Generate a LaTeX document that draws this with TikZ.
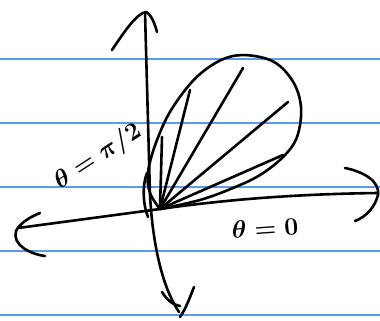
\documentclass[tikz,border=0pt]{standalone}
\usetikzlibrary{calc}
\definecolor{ruleblue}{RGB}{90,155,235}
\tikzset{
  ink/.style={line width=2.6pt, black, line cap=round, line join=round},
  ruling/.style={line width=1.3pt, ruleblue},
  lbl/.style={font=\fontsize{27}{30}\selectfont\boldmath, inner sep=0pt}
}
\begin{document}
\begin{tikzpicture}[x=1pt,y=-1pt]
\useasboundingbox (0,0) rectangle (380,321);
\fill[white] (0,0) rectangle (380,321);
% ruled paper lines
\foreach \yy in {59,123,187,251,315} \draw[ruling] (0,\yy) -- (380,\yy);
% origin
\coordinate (O) at (160,209);
% vertical axis
\draw[ink] (145,12) -- (150,195) .. controls (153,250) and (164,290) .. (179,312);
\draw[ink] (112,50) .. controls (124,32) and (137,13) .. (146,12) .. controls (151,14) and (155,24) .. (157,32);
\draw[ink] (162,292) .. controls (167,300) and (173,305) .. (180,306);
\draw[ink] (194,287) .. controls (189,300) and (185,310) .. (180,317);
% horizontal axis
\draw[ink] (18,228) -- (O) .. controls (230,199) and (300,194) .. (378,193);
\draw[ink] (40,213) .. controls (30,217) and (20,223) .. (16,231) .. controls (12,245) and (30,254) .. (45,256);
\draw[ink] (345,168) .. controls (365,172) and (380,182) .. (378,195) .. controls (375,207) and (366,217) .. (355,221);
% petal
\draw[ink] plot[smooth, tension=0.6] coordinates {(O) (150,193) (148,172) (157,140) (173,107) (200,74) (233,56) (270,60) (292,80) (301,107) (297,137) (283,157) (260,175) (233,188) (200,200) (O)};
\draw[ink] (147,173) .. controls (142,185) and (143,205) .. (148,217);
% rays
\coordinate (r1) at (162,137);
\coordinate (r2) at (190,90);
\coordinate (r3) at (243,68);
\coordinate (r4) at (288,102);
\coordinate (r5) at (283,155);
\foreach \r in {r1,r2,r3,r4,r5} \draw[ink] (O) -- (\r);
% labels
\node[lbl, rotate=33] (lpi) at (98,157) {$\theta=\pi/2$};
\node[lbl, rotate=4] (lzero) at (265,228) {$\theta=0$};
\end{tikzpicture}
\end{document}
